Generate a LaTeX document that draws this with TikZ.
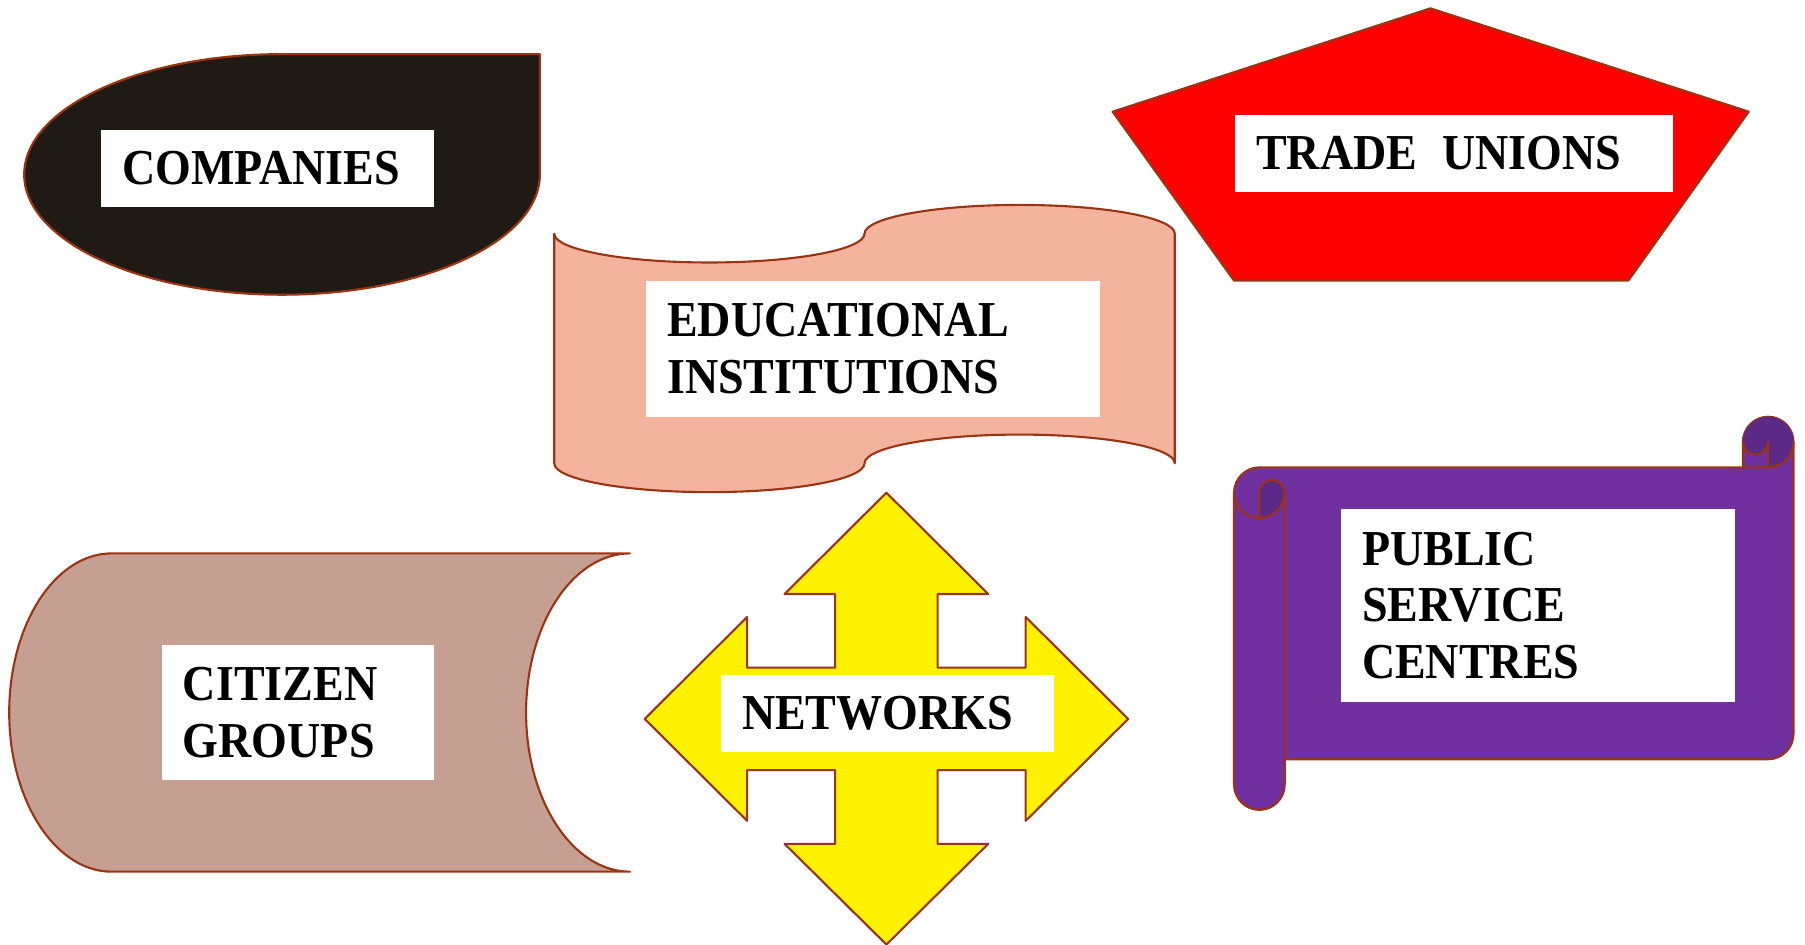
\documentclass[tikz,border=0pt]{standalone}
\usepackage{fontspec}
\setmainfont{Liberation Serif}[FakeStretch=0.915]
\usepackage{tikz}
\usetikzlibrary{shapes.geometric}

\definecolor{edgebrown}{HTML}{9B3412}
\definecolor{companyfill}{HTML}{1F1B14}
\definecolor{schoolfill}{HTML}{F3B39C}
\definecolor{citizenfill}{HTML}{C49F92}
\definecolor{scrollfill}{HTML}{7030A0}
\definecolor{scrolldark}{HTML}{5C2A86}

\begin{document}
\begin{tikzpicture}[x=0.0115115cm, y=-0.0115115cm,
    blob/.style={draw=edgebrown, line width=0.6pt, line join=round},
    labelbox/.style={fill=white, inner xsep=0.214cm, inner ysep=0pt, align=left,
        anchor=north west, font=\bfseries\fontsize{14.3pt}{16.1pt}\selectfont}]
\useasboundingbox (0,0) rectangle (1568,820.9);

% Companies
\draw[blob, fill=companyfill] (469,47) -- (245,47)
    arc[start angle=270, end angle=90, x radius=224, y radius=104.5]
    arc[start angle=90, end angle=0, x radius=224, y radius=104.5] -- cycle;
\node[labelbox, text width=2.900cm, minimum height=0.777cm] (companies) at (86.9,112) {COMPANIES};

% Educational institutions
\draw[blob, fill=schoolfill] (481.5,203)
    arc[start angle=180, end angle=0, x radius=134.75, y radius=25]
    arc[start angle=180, end angle=360, x radius=134.75, y radius=25]
    -- (1020.5,402.5)
    arc[start angle=0, end angle=-180, x radius=134.75, y radius=25]
    arc[start angle=0, end angle=180, x radius=134.75, y radius=25] -- cycle;
\node[labelbox, text width=4.114cm, minimum height=1.361cm] (school) at (560.3,243.2) {EDUCATIONAL\\INSTITUTIONS};

% Trade unions
\draw[blob, fill=red] (1242.6,7.2) -- (1519.1,97) -- (1414.5,243.8)
    -- (1072,243.8) -- (966.5,97) -- cycle;
\node[labelbox, text width=3.956cm, minimum height=0.777cm] (unions) at (1072,99) {TRADE\ \kern0.17em UNIONS};

% Citizen groups
\draw[blob, fill=citizenfill] (97,480.7) -- (547.3,480.7)
    arc[start angle=270, end angle=90, x radius=90.3, y radius=138.25]
    -- (97,757.2)
    arc[start angle=90, end angle=270, x radius=89, y radius=138.25] -- cycle;
\node[labelbox, text width=2.299cm, minimum height=1.354cm] (citizen) at (139.7,559.4) {CITIZEN\\GROUPS};

% Networks
\draw[blob, fill=yellow] (770,428) -- (858.5,516) -- (814.5,516) -- (814.5,580)
    -- (891,580) -- (891,536) -- (980,624.5) -- (891,713) -- (891,669)
    -- (814.5,669) -- (814.5,733) -- (858.5,733) -- (770,820.5) -- (681.5,733)
    -- (725.5,733) -- (725.5,669) -- (649,669) -- (649,713) -- (560,624.5)
    -- (649,536) -- (649,580) -- (725.5,580) -- (725.5,516) -- (681.5,516) -- cycle;
\node[labelbox, text width=2.899cm, minimum height=0.777cm] (networks) at (625.4,585.5) {NETWORKS};

% Public service centres
\draw[blob, fill=scrollfill] (1072,428) arc[start angle=180, end angle=270, radius=22]
    -- (1514,406) -- (1514,384) arc[start angle=180, end angle=360, radius=22]
    -- (1558,637.5) arc[start angle=0, end angle=90, radius=22]
    -- (1116,659.5) -- (1116,681.5) arc[start angle=0, end angle=180, radius=22] -- cycle;
\fill[scrolldark] (1094,450) arc[start angle=90, end angle=0, radius=22]
    arc[start angle=0, end angle=-180, radius=11] -- cycle;
\fill[scrolldark] (1536,406) arc[start angle=90, end angle=-180, radius=22]
    arc[start angle=180, end angle=0, radius=11] -- cycle;
\draw[blob] (1514,406) -- (1536,406) arc[start angle=90, end angle=0, radius=22];
\draw[blob] (1536,406) -- (1536,384) arc[start angle=0, end angle=180, radius=11];
\draw[blob] (1094,450) -- (1094,428) arc[start angle=180, end angle=360, radius=11]
    arc[start angle=0, end angle=180, radius=22];
\draw[blob] (1116,428) -- (1116,659.5);
\node[labelbox, text width=3.515cm, minimum height=1.936cm] (public) at (1164,441.3) {PUBLIC\\SERVICE\\CENTRES};
\end{tikzpicture}
\end{document}
